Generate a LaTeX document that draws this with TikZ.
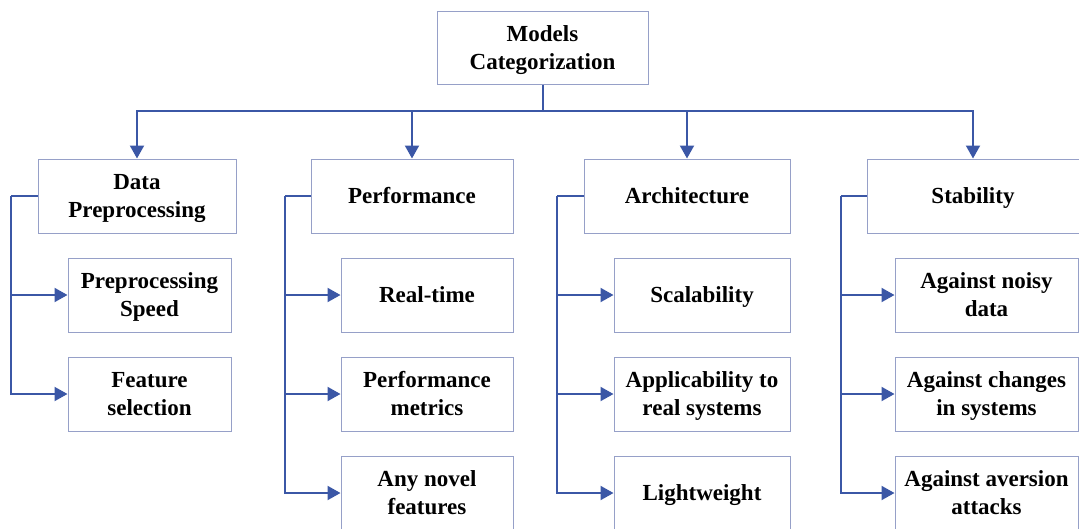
\documentclass[tikz,border=0pt]{standalone}
\usepackage{fontspec}
\setmainfont{Liberation Serif}
\usetikzlibrary{arrows.meta}
\definecolor{boxc}{RGB}{150,160,200}
\definecolor{linec}{RGB}{59,87,166}
\newcommand\ms{\vrule height 21pt depth 5.8pt width 0pt}
\tikzset{
  box/.style={draw=boxc, line width=1pt, fill=white, align=center, inner sep=0pt,
    minimum height=74pt, font=\fontsize{23}{28}\selectfont\bfseries},
  conn/.style={draw=linec, line width=2pt},
  arr/.style={conn, -{Triangle[width=14pt,length=13pt]}},
}
\begin{document}
\begin{tikzpicture}[x=1pt,y=-1pt]
\useasboundingbox (0,0) rectangle (1079,528);
% top
\node[box, minimum width=211pt, minimum height=73pt] (top) at (542.5,47.5) {\ms Models\\\ms Categorization};
% categories
\node[box, minimum width=198pt] (dp) at (137,196) {\ms Data\\\ms Preprocessing};
\node[box, minimum width=202pt] (pf) at (412,196) {\ms Performance};
\node[box, minimum width=206pt] (ar) at (687,196) {\ms Architecture};
\node[box, minimum width=212pt] (st) at (973,196) {\ms Stability};
% children
\node[box, minimum width=163pt] (dp1) at (149.5,295) {\ms Preprocessing\\\ms Speed};
\node[box, minimum width=163pt] (dp2) at (149.5,394) {\ms Feature\\\ms selection};
\node[box, minimum width=172pt] (pf1) at (427,295) {\ms Real-time};
\node[box, minimum width=172pt] (pf2) at (427,394) {\ms Performance\\\ms metrics};
\node[box, minimum width=172pt] (pf3) at (427,493) {\ms Any novel\\\ms features};
\node[box, minimum width=176pt] (ar1) at (702,295) {\ms Scalability};
\node[box, minimum width=176pt] (ar2) at (702,394) {\ms Applicability to\\\ms real systems};
\node[box, minimum width=176pt] (ar3) at (702,493) {\ms Lightweight};
\node[box, minimum width=183pt] (st1) at (986.5,295) {\ms Against noisy\\\ms data};
\node[box, minimum width=183pt] (st2) at (986.5,394) {\ms Against changes\\\ms in systems};
\node[box, minimum width=183pt] (st3) at (986.5,493) {\ms Against aversion\\\ms attacks};
% bus
\coordinate (bus) at (542.5,111);
\draw[conn] (top.south) -- (bus);
\draw[arr] (bus) -| (dp.north);
\draw[arr] (bus) -| (pf.north);
\draw[arr] (bus) -| (ar.north);
\draw[arr] (bus) -| (st.north);
% spines
\coordinate (dpS) at (11,196);
\coordinate (pfS) at (285,196);
\coordinate (arS) at (557,196);
\coordinate (stS) at (841,196);
\draw[conn] (dp.west) -- (dpS);
\draw[arr] (dpS) |- (dp1.west);
\draw[arr] (dpS) |- (dp2.west);
\draw[conn] (pf.west) -- (pfS);
\draw[arr] (pfS) |- (pf1.west);
\draw[arr] (pfS) |- (pf2.west);
\draw[arr] (pfS) |- (pf3.west);
\draw[conn] (ar.west) -- (arS);
\draw[arr] (arS) |- (ar1.west);
\draw[arr] (arS) |- (ar2.west);
\draw[arr] (arS) |- (ar3.west);
\draw[conn] (st.west) -- (stS);
\draw[arr] (stS) |- (st1.west);
\draw[arr] (stS) |- (st2.west);
\draw[arr] (stS) |- (st3.west);
\end{tikzpicture}
\end{document}
